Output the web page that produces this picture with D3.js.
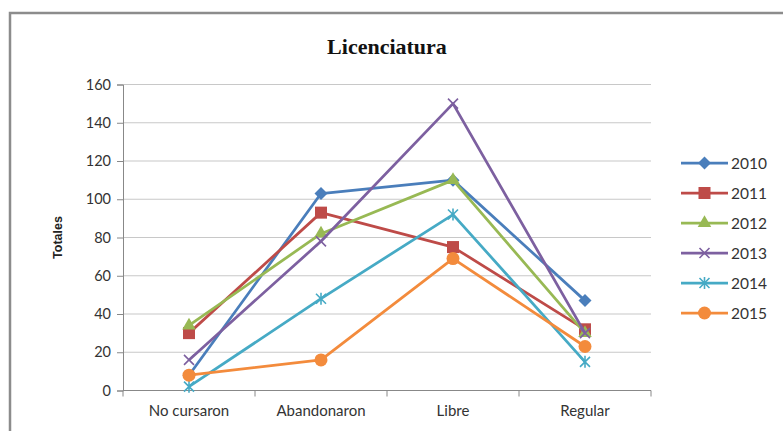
<!DOCTYPE html>
<html>
<head>
<meta charset="utf-8">
<script src="https://cdn.jsdelivr.net/npm/d3@7"></script>
<style>
  body { margin: 0; background: #fff; }
  svg { display: block; }
</style>
</head>
<body>
<svg id="chart"></svg>
<script>
// Chart data
const categories = ['No cursaron', 'Abandonaron', 'Libre', 'Regular'];
const years = ['2010', '2011', '2012', '2013', '2014', '2015'];
const values2010 = [8, 103, 110, 47];
const values2011 = [30, 93, 75, 32];
const values2012 = [34, 82, 110, 30];
const values2013 = [16, 78, 150, 30];
const values2014 = [2, 48, 92, 15];
const values2015 = [8, 16, 69, 23];
const yTicks = [0, 20, 40, 60, 80, 100, 120, 140, 160];

const seriesValues = [values2010, values2011, values2012, values2013, values2014, values2015];
const colors = ['#4A7EBB', '#BE4B48', '#98B954', '#7D60A0', '#46AAC5', '#F38B3C'];
const shapes = ['diamond', 'square', 'triangle', 'x', 'star', 'circle'];

const series = years.map((yr, i) => ({
    name: yr,
    color: colors[i],
    shape: shapes[i],
    values: seriesValues[i].map((v, j) => ({cat: categories[j], value: v}))
}));

const W = 783, H = 431;
const svg = d3.select('#chart').attr('width', W).attr('height', H);

// Outer frame
svg.append('rect')
    .attr('x', 10).attr('y', 13)
    .attr('width', 790).attr('height', 440)
    .attr('fill', '#fff')
    .attr('stroke', '#8c8c8c')
    .attr('stroke-width', 2.5);

// Plot area
const plotLeft = 123, plotRight = 651, plotTop = 84.5, plotBottom = 390.5;

const x = d3.scaleBand().domain(categories).range([plotLeft, plotRight]);
const y = d3.scaleLinear().domain([0, 160]).range([plotBottom, plotTop]);

// Title
svg.append('text')
    .attr('x', 387).attr('y', 54)
    .attr('text-anchor', 'middle')
    .style('font-family', '"Liberation Serif", "Times New Roman", serif')
    .style('font-weight', 'bold')
    .style('font-size', '22px')
    .attr('fill', '#111')
    .text('Licenciatura');

// Gridlines
svg.append('g')
    .selectAll('line')
    .data(yTicks.filter(d => d > 0))
    .enter().append('line')
    .attr('x1', plotLeft).attr('x2', plotRight)
    .attr('y1', d => y(d)).attr('y2', d => y(d))
    .attr('stroke', '#c8c8c8')
    .attr('stroke-width', 1.2);

// Y axis
const yAxis = d3.axisLeft(y).tickValues(yTicks).tickSize(6).tickPadding(6);
const gy = svg.append('g')
    .attr('transform', `translate(${plotLeft},0)`)
    .call(yAxis);
gy.select('.domain').attr('stroke', '#888');
gy.selectAll('.tick line').attr('stroke', '#888');
gy.selectAll('.tick text')
    .style('font-family', 'Lato, "Open Sans", sans-serif')
    .style('font-size', '14.5px')
    .attr('fill', '#333');

// X axis (ticks between categories)
svg.append('line')
    .attr('x1', plotLeft).attr('x2', plotRight)
    .attr('y1', plotBottom).attr('y2', plotBottom)
    .attr('stroke', '#888');
svg.append('g')
    .selectAll('line')
    .data(d3.range(categories.length + 1))
    .enter().append('line')
    .attr('x1', i => plotLeft + i * x.step()).attr('x2', i => plotLeft + i * x.step())
    .attr('y1', plotBottom).attr('y2', plotBottom + 6)
    .attr('stroke', '#888');
svg.append('g')
    .selectAll('text')
    .data(categories)
    .enter().append('text')
    .attr('x', d => x(d) + x.bandwidth() / 2)
    .attr('y', plotBottom + 25)
    .attr('text-anchor', 'middle')
    .style('font-family', 'Lato, "Open Sans", sans-serif')
    .style('font-size', '15px')
    .attr('fill', '#333')
    .text(d => d);

// Y axis title
svg.append('text')
    .attr('transform', `translate(62,${(plotTop + plotBottom) / 2}) rotate(-90)`)
    .attr('text-anchor', 'middle')
    .style('font-family', '"Liberation Sans", Arial, sans-serif')
    .style('font-weight', 'bold')
    .style('font-size', '12.5px')
    .attr('fill', '#222')
    .text('Totales');

// Marker drawing
function drawMarker(g, shape, color) {
    if (shape === 'diamond') {
        g.append('path').attr('d', 'M0,-6.5L6.5,0L0,6.5L-6.5,0Z').attr('fill', color);
    } else if (shape === 'square') {
        g.append('rect').attr('x', -6).attr('y', -6).attr('width', 12).attr('height', 12).attr('fill', color);
    } else if (shape === 'triangle') {
        g.append('path').attr('d', d3.symbol(d3.symbolTriangle, 80)()).attr('fill', color);
    } else if (shape === 'x') {
        g.append('path').attr('d', 'M-5,-5L5,5M-5,5L5,-5').attr('stroke', color).attr('stroke-width', 1.6).attr('fill', 'none');
    } else if (shape === 'star') {
        g.append('path').attr('d', 'M-5,-5L5,5M-5,5L5,-5M0,-6L0,6').attr('stroke', color).attr('stroke-width', 1.6).attr('fill', 'none');
    } else if (shape === 'circle') {
        g.append('circle').attr('r', 6.5).attr('fill', color);
    }
}

const line = d3.line()
    .x(d => x(d.cat) + x.bandwidth() / 2)
    .y(d => y(d.value));

const gs = svg.append('g')
    .selectAll('g.series')
    .data(series)
    .enter().append('g')
    .attr('class', 'series');

gs.append('path')
    .attr('d', d => line(d.values))
    .attr('fill', 'none')
    .attr('stroke', d => d.color)
    .attr('stroke-width', 2.75)
    .attr('stroke-linejoin', 'round');

gs.each(function (s) {
    const g = d3.select(this);
    s.values.forEach(v => {
        const m = g.append('g')
            .attr('transform', `translate(${x(v.cat) + x.bandwidth() / 2},${y(v.value)})`);
        drawMarker(m, s.shape, s.color);
    });
});

// Legend
const legend = svg.append('g')
    .selectAll('g')
    .data(series)
    .enter().append('g')
    .attr('transform', (d, i) => `translate(681,${163 + i * 30})`);

legend.append('line')
    .attr('x1', 0).attr('x2', 47)
    .attr('stroke', d => d.color)
    .attr('stroke-width', 2.75);
legend.each(function (s) {
    const m = d3.select(this).append('g').attr('transform', 'translate(23.5,0)');
    drawMarker(m, s.shape, s.color);
});
legend.append('text')
    .attr('x', 50).attr('y', 5.5)
    .style('font-family', 'Lato, "Open Sans", sans-serif')
    .style('font-size', '15.5px')
    .attr('fill', '#333')
    .text(d => d.name);
</script>
</body>
</html>
